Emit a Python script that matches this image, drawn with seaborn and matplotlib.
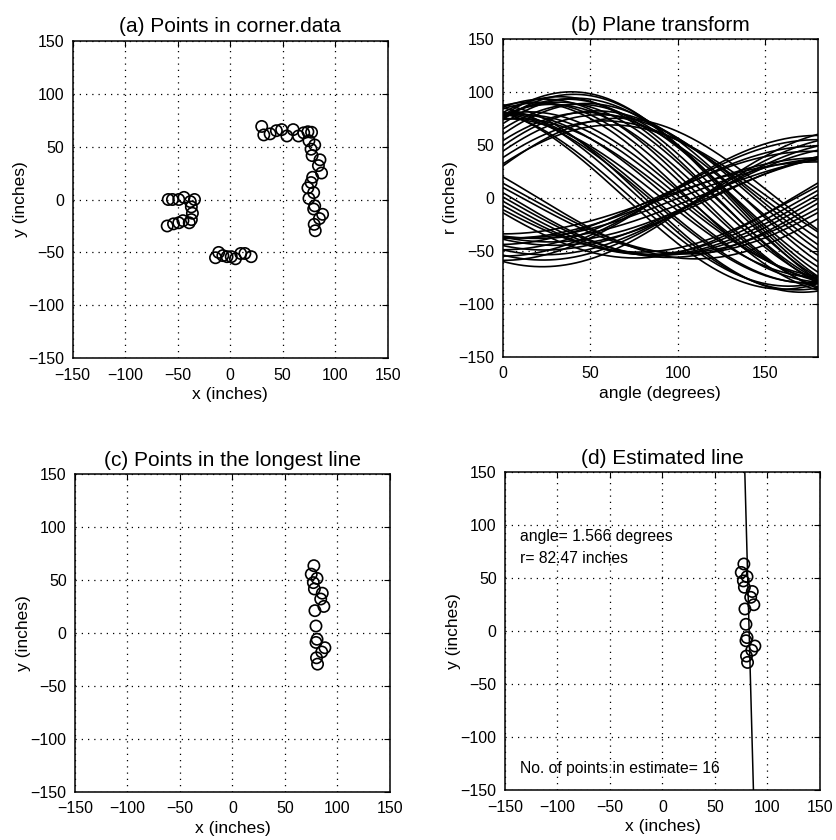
import numpy as np
import pandas as pd
import matplotlib
matplotlib.use("Agg")
import matplotlib.pyplot as plt
import seaborn as sns

# points, grouped by cluster
left_x = [-59, -55, -49, -44, -38, -34, -37, -36, -37, -39, -45, -49, -54, -60]
left_y = [0, 0, 0, 2, -2, 0, -7, -13, -19, -22, -20, -22, -23, -25]

bottom_x = [-14, -11, -7, -3, 1, 5, 10, 14, 20]
bottom_y = [-55, -50, -53, -54, -54, -56, -51, -51, -54]

top_x = [30, 32, 38, 44, 49, 54, 60, 65, 70, 74]
top_y = [69, 61, 62, 65, 66, 60, 66, 60, 63, 64]

extra_x = [74, 75, 77]
extra_y = [11, 1, 16]

# points of the longest line (panel c)
line_x = [77.5, 75, 80.5, 77, 78, 85.5, 84, 87, 78.5, 79.5, 80.5, 79.5, 88, 85, 80, 81]
line_y = [63.5, 55.5, 51.5, 47.5, 41.5, 37.5, 32, 25, 21, 6.5, -6, -9, -14, -18, -23.5, -29.5]

# estimated line parameters
est_angle = 1.566
est_r = 82.47
n_est = 16

ticks = [-150, -100, -50, 0, 50, 100, 150]

sns.set_theme(style="white")
plt.rcParams["font.family"] = ["Liberation Sans", "DejaVu Sans"]
plt.rcParams["axes.edgecolor"] = "black"
plt.rcParams["text.color"] = "black"
plt.rcParams["axes.labelcolor"] = "black"

all_pts = pd.DataFrame({
    "x": left_x + bottom_x + top_x + extra_x + line_x,
    "y": left_y + bottom_y + top_y + extra_y + line_y,
})
line_pts = pd.DataFrame({"x": line_x, "y": line_y})

fig = plt.figure(figsize=(8.37, 8.40), dpi=100)
W, H = 315 / 837, 317.6 / 840
ax_a = fig.add_axes([72.7 / 837, 1 - 358.3 / 840, W, H])
ax_b = fig.add_axes([502.7 / 837, 1 - 356.7 / 840, W, H])
ax_c = fig.add_axes([75 / 837, 1 - 791.7 / 840, W, H])
ax_d = fig.add_axes([505 / 837, 1 - 790 / 840, W, H])


def style(ax, title, xlabel, ylabel, xticks):
    ax.set_title(title, fontsize=15, pad=6)
    ax.set_xlabel(xlabel, fontsize=12.5, labelpad=3)
    ax.set_ylabel(ylabel, fontsize=12.5, labelpad=0)
    ax.set_xticks(xticks)
    ax.set_yticks(ticks)
    ax.set_ylim(-150, 150)
    ax.grid(True, color="black", linestyle=(0, (1, 4)), linewidth=0.9)
    ax.tick_params(direction="in", top=True, right=True, length=4, width=0.8,
                   labelsize=11.5, colors="black")
    ax.tick_params(axis="x", pad=7)
    ax.tick_params(axis="y", pad=6)
    for sp in ax.spines.values():
        sp.set_linewidth(1.1)
        sp.set_color("black")


def circles(ax, df):
    sns.scatterplot(data=df, x="x", y="y", ax=ax, marker="o", s=66,
                    facecolor="none", edgecolor="black", linewidth=1.2, zorder=3)


# (a)
circles(ax_a, all_pts)
ax_a.set_xlim(-150, 150)
style(ax_a, "(a) Points in corner.data", "x (inches)", "y (inches)", ticks)

# (b) r = x cos(theta) + y sin(theta) for every point
angles = np.arange(0, 181, 1)
rows = []
for i, (px, py) in enumerate(zip(all_pts["x"], all_pts["y"])):
    rad = np.deg2rad(angles)
    rows.append(pd.DataFrame({"angle": angles, "r": px * np.cos(rad) + py * np.sin(rad), "pid": i}))
hough = pd.concat(rows, ignore_index=True)
sns.lineplot(data=hough, x="angle", y="r", units="pid", estimator=None,
             color="black", linewidth=1.2, ax=ax_b)
ax_b.set_xlim(0, 180)
style(ax_b, "(b) Plane transform", "angle (degrees)", "r (inches)", [0, 50, 100, 150])

# (c)
circles(ax_c, line_pts)
ax_c.set_xlim(-150, 150)
style(ax_c, "(c) Points in the longest line", "x (inches)", "y (inches)", ticks)

# (d)
th = np.deg2rad(est_angle)
ys = np.array([-150.0, 150.0])
est = pd.DataFrame({"x": (est_r - ys * np.sin(th)) / np.cos(th), "y": ys})
sns.lineplot(data=est, x="x", y="y", sort=False, color="black", linewidth=1.1, ax=ax_d)
circles(ax_d, line_pts)
ax_d.set_xlim(-150, 150)
style(ax_d, "(d) Estimated line", "x (inches)", "y (inches)", ticks)
ax_d.text(-136, 89, f"angle= {est_angle} degrees", fontsize=11.3, va="center")
ax_d.text(-136, 69, f"r= {est_r} inches", fontsize=11.3, va="center")
ax_d.text(-136, -130, f"No. of points in estimate= {n_est}", fontsize=11.3, va="center")

fig.savefig("out.png", dpi=100)
